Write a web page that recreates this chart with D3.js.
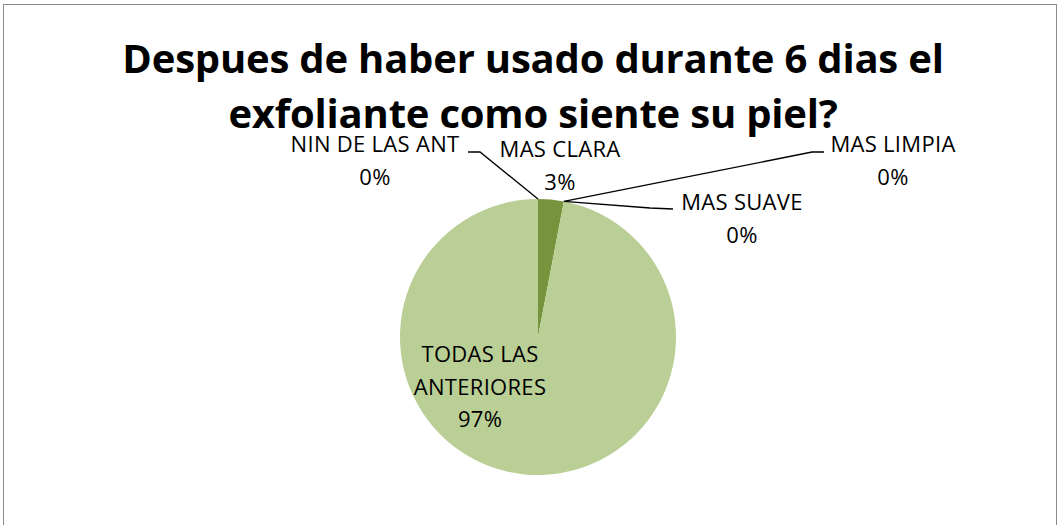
<!DOCTYPE html>
<html>
<head>
<meta charset="utf-8">
<script src="https://cdn.jsdelivr.net/npm/d3@7"></script>
<style>
  body { margin: 0; background: #fff; }
  svg { display: block; }
  text { font-family: "Open Sans", Lato, sans-serif; fill: #000; }
</style>
</head>
<body>
<svg width="1060" height="525"></svg>
<script>
// chart data
var categories = ["MAS CLARA", "MAS LIMPIA", "MAS SUAVE", "TODAS LAS ANTERIORES", "NIN DE LAS ANT"];
var values = [3, 0, 0, 97, 0];
var titleLines = ["Despues de haber usado durante 6 dias el", "exfoliante como siente su piel?"];

var svg = d3.select('svg');
var cx = 538, cy = 337, r = 138;

// chart frame
svg.append('rect')
    .attr('x', 3.5).attr('y', 4.5)
    .attr('width', 1053).attr('height', 530)
    .attr('fill', '#fff')
    .attr('stroke', '#8c8c8c')
    .attr('stroke-width', 1);

svg.selectAll('text.title')
    .data(titleLines).enter()
    .append('text')
    .attr('class', 'title')
    .attr('x', 533)
    .attr('y', function(d, i) { return 73 + i * 55; })
    .attr('text-anchor', 'middle')
    .style('font-size', '40px')
    .style('font-weight', 'bold')
    .style('letter-spacing', '-0.2px')
    .text(function(d) { return d; });

var items = categories.map(function(c, i) { return { name: c, value: values[i] }; });
var total = d3.sum(values);

var pie = d3.pie().sort(null).value(function(d) { return d.value; });
var arc = d3.arc().innerRadius(0).outerRadius(r);
var arcs = pie(items);

var color = d3.scaleOrdinal()
    .domain(categories)
    .range(['#77933c', '#8eb4e3', '#c3d69b', '#bacf96', '#4f6228']);

var g = svg.append('g').attr('transform', 'translate(' + cx + ',' + cy + ')');

g.selectAll('path')
    .data(arcs).enter()
    .append('path')
    .attr('d', arc)
    .attr('fill', function(d) { return color(d.data.name); });

// label placement, relative to the pie centre
var labelPos = {
    "MAS CLARA": { x: 22, y: -187 },
    "MAS LIMPIA": { x: 355, y: -192, elbow: [274, -185], end: [286, -185] },
    "MAS SUAVE": { x: 204, y: -134, elbow: [112, -129], end: [135, -128] },
    "NIN DE LAS ANT": { x: -163, y: -192, elbow: [-58, -185], end: [-70, -185] },
    "TODAS LAS ANTERIORES": { x: -58, y: 18, lines: ["TODAS LAS", "ANTERIORES"] }
};

function pct(d) { return Math.round(d.data.value / total * 100) + '%'; }

arcs.forEach(function(d) {
    var p = labelPos[d.data.name];
    if (p.elbow) {
        var a = (d.startAngle + d.endAngle) / 2;
        var start = [Math.sin(a) * r, -Math.cos(a) * r];
        g.append('polyline')
            .attr('points', [start, p.elbow, p.end].map(function(q) { return q.join(','); }).join(' '))
            .attr('fill', 'none')
            .attr('stroke', '#000')
            .attr('stroke-width', 1.3);
    }
    var lines = (p.lines || [d.data.name]).concat([pct(d)]);
    var t = g.append('text')
        .attr('text-anchor', 'middle')
        .style('font-size', '22px')
        .style('letter-spacing', '0.3px');
    lines.forEach(function(l, i) {
        t.append('tspan')
            .attr('x', p.x)
            .attr('y', p.y + i * 32.5 + 7)
            .text(l);
    });
});
</script>
</body>
</html>
